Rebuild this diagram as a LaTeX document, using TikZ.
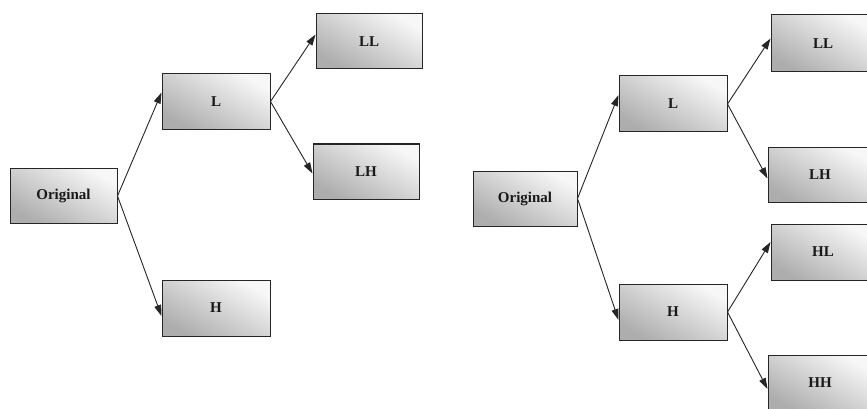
\documentclass[tikz,border=0pt]{standalone}
\usepackage{fontspec}
\setmainfont{Liberation Serif}
\usetikzlibrary{arrows.meta}
\tikzset{
  band/.style={draw=black!85, line width=1pt, inner sep=0pt,
    shading=axis, top color=black!32, bottom color=black!3, shading angle=150,
    font=\fontsize{15}{17}\selectfont\bfseries, text=black!90},
  box104/.style={band, minimum width=104pt, minimum height=55pt},
  box108/.style={band, minimum width=108pt, minimum height=56pt},
  link/.style={line width=0.9pt, black!85, -{Triangle[length=11pt,width=7pt]}}
}
\begin{document}
\begin{tikzpicture}[x=1pt,y=-1pt]
  \useasboundingbox (0,0) rectangle (867,409);
  \clip (0,0) rectangle (867,409);
  \fill[white] (0,0) rectangle (867,409);

  % one-level split
  \node[box104, minimum width=107pt] (o1)  at (63.5,196)  {Original};
  \node[box108]                      (l1)  at (216,101.5) {L};
  \node[box108]                      (h1)  at (216,308)   {H};
  \node[box104, minimum width=106pt] (ll1) at (369,41.5)  {LL};
  \node[box104, minimum width=106pt] (lh1) at (366,171.5) {LH};

  \draw[link] (o1.east) -- ([yshift=9pt]l1.west);
  \draw[link] (o1.east) -- ([yshift=-8pt]h1.west);
  \draw[link] (l1.east) -- ([yshift=7pt]ll1.west);
  \draw[link] (l1.east) -- ([yshift=-2pt]lh1.west);

  % two-level split
  \node[box104]                      (o2)  at (525,198.5) {Original};
  \node[box108]                      (l2)  at (673,104)   {L};
  \node[box108]                      (h2)  at (673,312)   {H};
  \node[box104, minimum height=57pt] (ll2) at (823,43.5)  {LL};
  \node[box104]                      (lh2) at (820,174.5) {LH};
  \node[box104, minimum height=56pt] (hl2) at (823,252)   {HL};
  \node[box104, minimum height=56pt] (hh2) at (820,383)   {HH};

  \draw[link] (o2.east) -- ([yshift=9pt]l2.west);
  \draw[link] (o2.east) -- ([yshift=-8pt]h2.west);
  \draw[link] (l2.east) -- ([yshift=5pt]ll2.west);
  \draw[link] (l2.east) -- ([yshift=-4pt]lh2.west);
  \draw[link] (h2.east) -- ([yshift=10pt]hl2.west);
  \draw[link] (h2.east) -- ([yshift=-6pt]hh2.west);
\end{tikzpicture}
\end{document}
